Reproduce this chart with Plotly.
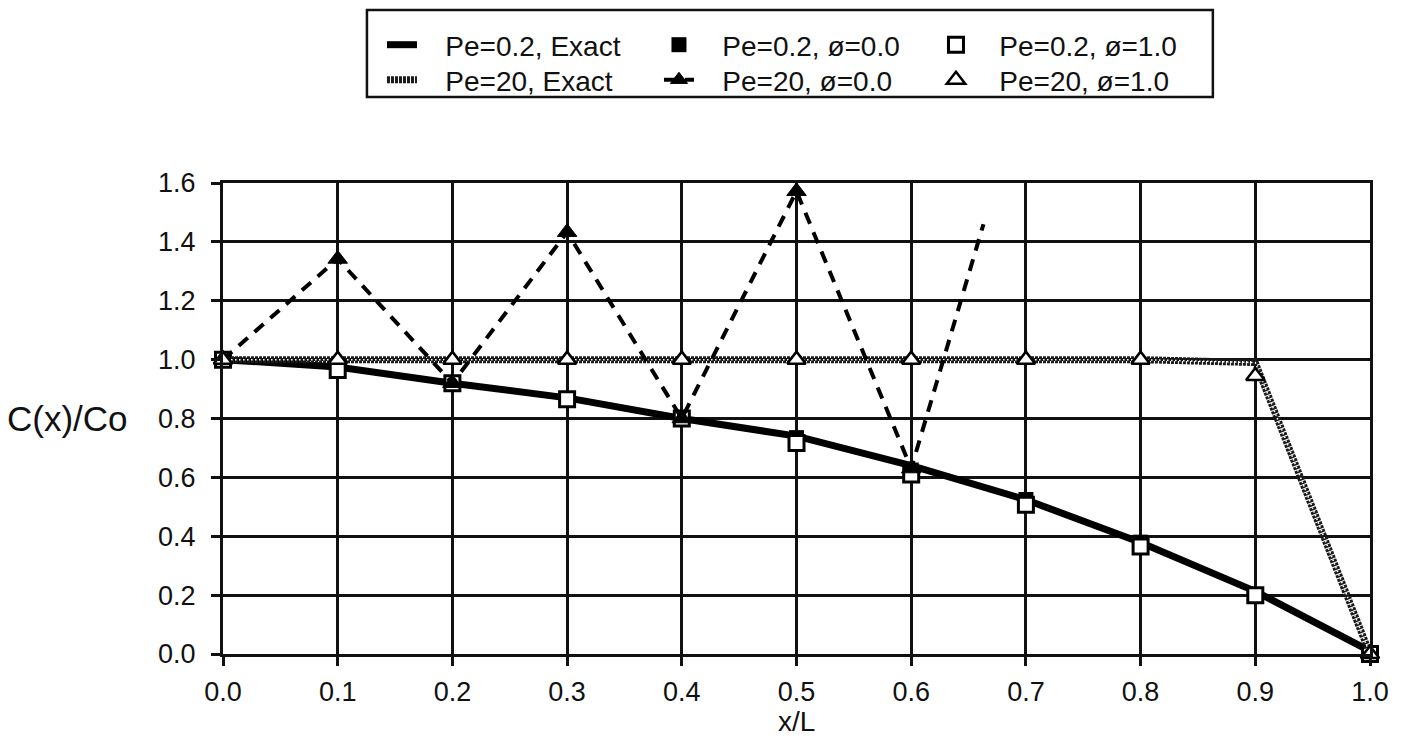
import plotly.graph_objects as go

# ---- data ----
x_pts = [0.0, 0.1, 0.2, 0.3, 0.4, 0.5, 0.6, 0.7, 0.8, 0.9, 1.0]

pe02_exact = [1.0, 0.975, 0.92, 0.87, 0.80, 0.74, 0.64, 0.524, 0.379, 0.213, 0.01]
pe02_phi0 = [1.0, 0.97, 0.92, 0.865, 0.80, 0.735, 0.625, 0.525, 0.38, 0.20, 0.0]
pe02_phi1 = [1.0, 0.965, 0.92, 0.865, 0.80, 0.717, 0.61, 0.507, 0.365, 0.20, 0.0]

pe20_exact = [1.0, 1.0, 1.0, 1.0, 1.0, 1.0, 1.0, 1.0, 1.0, 0.99, 0.0]
pe20_phi0_x = [0.0, 0.1, 0.2, 0.3, 0.4, 0.5, 0.6, 0.663]
pe20_phi0 = [1.0, 1.342, 0.92, 1.433, 0.80, 1.572, 0.63, 1.46]
pe20_phi1 = [1.0, 1.0, 1.0, 1.0, 1.0, 1.0, 1.0, 1.0, 1.0, 0.944, 0.0]

x_ticks = [0.0, 0.1, 0.2, 0.3, 0.4, 0.5, 0.6, 0.7, 0.8, 0.9, 1.0]
x_tick_labels = ["0.0", "0.1", "0.2", "0.3", "0.4", "0.5", "0.6", "0.7", "0.8", "0.9", "1.0"]
y_ticks = [0.0, 0.2, 0.4, 0.6, 0.8, 1.0, 1.2, 1.4, 1.6]
y_tick_labels = ["0.0", "0.2", "0.4", "0.6", "0.8", "1.0", "1.2", "1.4", "1.6"]

FONT = "Liberation Sans, Arial, Helvetica, sans-serif"
BLACK = "#000000"
INK = "#111111"
PAD = "\u00a0\u00a0\u00a0"  # gap between legend symbol and its text

fig = go.Figure()

# row 1 of the legend (also drawing order)
fig.add_trace(go.Scatter(
    x=x_pts, y=pe02_exact, mode="lines", name=PAD + "Pe=0.2, Exact", legend="legend",
    line=dict(color=BLACK, width=7), cliponaxis=False))

fig.add_trace(go.Scatter(
    x=x_pts, y=pe02_phi0, mode="markers", name=PAD + "Pe=0.2, ø=0.0", legend="legend",
    marker=dict(symbol="square", size=15, color=BLACK, line=dict(width=0)),
    cliponaxis=False))

fig.add_trace(go.Scatter(
    x=x_pts, y=pe02_phi1, mode="markers", name=PAD + "Pe=0.2, ø=1.0", legend="legend",
    marker=dict(symbol="square", size=15, color="white", line=dict(color=BLACK, width=3)),
    cliponaxis=False))

# row 2 of the legend
fig.add_trace(go.Scatter(
    x=x_pts, y=pe20_exact, mode="lines", name=PAD + "Pe=20, Exact", legend="legend2",
    line=dict(color="#1a1a1a", width=7, dash="3px,1px"), cliponaxis=False))
fig.add_trace(go.Scatter(
    x=x_pts, y=pe20_exact, mode="lines", showlegend=False, hoverinfo="skip",
    line=dict(color="white", width=1.5, dash="1.5px,2.5px"), cliponaxis=False))

sizes0 = [17] * (len(pe20_phi0_x) - 1) + [0]
fig.add_trace(go.Scatter(
    x=pe20_phi0_x, y=pe20_phi0, mode="lines+markers", name=PAD + "Pe=20, ø=0.0", legend="legend2",
    line=dict(color=BLACK, width=4, dash="12px,9px"),
    marker=dict(symbol="triangle-up", size=sizes0, color=BLACK, opacity=1,
                line=dict(color=BLACK, width=1)),
    cliponaxis=False))

fig.add_trace(go.Scatter(
    x=x_pts, y=pe20_phi1, mode="markers", name=PAD + "Pe=20, ø=1.0", legend="legend2",
    marker=dict(symbol="triangle-up", size=16, color="white", line=dict(color=BLACK, width=2.5)),
    cliponaxis=False))

axis_common = dict(
    showgrid=True, gridcolor=INK, gridwidth=2.5,
    showline=True, linecolor=INK, linewidth=3, mirror=True,
    ticks="outside", ticklen=9, tickwidth=2.5, tickcolor=INK,
    zeroline=False, tickfont=dict(family=FONT, size=27, color=INK),
)

fig.update_xaxes(range=[0, 1], tickvals=x_ticks, ticktext=x_tick_labels,
                 ticklabelstandoff=3, **axis_common)
fig.update_yaxes(range=[0, 1.6], tickvals=y_ticks, ticktext=y_tick_labels,
                 ticklabelstandoff=10, **axis_common)

fig.add_annotation(text="C(x)/Co", xref="paper", yref="y", x=0, y=0.8,
                   xanchor="right", yanchor="middle", xshift=-93, showarrow=False,
                   font=dict(family=FONT, size=35, color=INK))
fig.add_annotation(text="x/L", xref="paper", yref="paper", x=0.5, y=0,
                   xanchor="center", yanchor="middle", yshift=-67, showarrow=False,
                   font=dict(family=FONT, size=28, color=INK))

# legend frame
fig.add_shape(type="rect", xref="paper", yref="paper",
              x0=0.1255, x1=0.863, y0=1.1826, y1=1.3673,
              line=dict(color=INK, width=2.5), fillcolor="rgba(0,0,0,0)")

legend_common = dict(
    orientation="h", xanchor="left", yanchor="middle",
    bgcolor="rgba(0,0,0,0)", borderwidth=0,
    font=dict(family=FONT, size=28, color=INK),
    entrywidthmode="pixels", entrywidth=232, itemwidth=30,
    traceorder="normal",
)

fig.update_layout(
    width=1393, height=736,
    margin=dict(l=215, r=31, t=175, b=90),
    paper_bgcolor="white", plot_bgcolor="white",
    font=dict(family=FONT, color=INK),
    showlegend=True,
    legend=dict(x=0.1386, y=1.293, **legend_common),
    legend2=dict(x=0.1386, y=1.2187, **legend_common),
)

fig.write_html("out.html")
